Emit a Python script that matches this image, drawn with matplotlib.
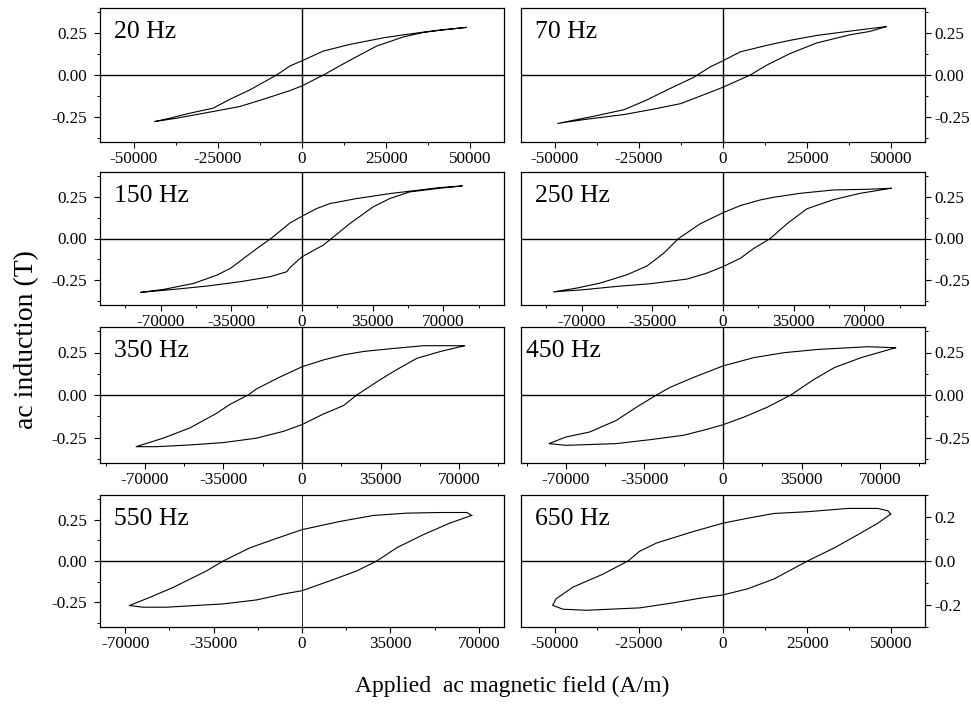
import matplotlib
matplotlib.use("Agg")
import matplotlib.pyplot as plt
from matplotlib.ticker import MultipleLocator, FormatStrFormatter

plt.rcParams['font.family'] = ['Liberation Serif', 'DejaVu Serif']
plt.rcParams['axes.unicode_minus'] = False

# Panel titles (excitation frequency)
freqs = ["20 Hz", "70 Hz", "150 Hz", "250 Hz", "350 Hz", "450 Hz", "550 Hz", "650 Hz"]

# Each loop: upper branch (field decreasing) followed by lower branch (field increasing)
H_20 = [48700, 41100, 36100, 30200, 24200, 22200, 14300, 6350, 0, -3570, -7540, -15500, -21400, -26400, -33300, -39300, -43750,
        -37300, -26400, -18450, -11500, -3570, 0, 6350, 14300, 22200, 30200, 36100, 41100, 48700]
B_20 = [0.284, 0.268, 0.256, 0.240, 0.222, 0.214, 0.183, 0.143, 0.085, 0.054, 0.0, -0.089, -0.145, -0.198, -0.228, -0.258, -0.278,
        -0.258, -0.218, -0.188, -0.145, -0.093, -0.065, 0.0, 0.089, 0.173, 0.228, 0.254, 0.268, 0.284]

H_70 = [48500, 37700, 27800, 19900, 13000, 5100, 0, -3750, -8700, -16600, -22500, -29400, -38300, -49100,
        -41200, -29400, -21500, -12600, -5720, 0, 8100, 13000, 19900, 27800, 37700, 43600, 48500]
B_70 = [0.289, 0.262, 0.236, 0.207, 0.177, 0.138, 0.085, 0.049, -0.014, -0.089, -0.148, -0.207, -0.246, -0.289,
        -0.266, -0.236, -0.207, -0.171, -0.118, -0.073, 0.0, 0.059, 0.128, 0.191, 0.240, 0.260, 0.289]

H_150 = [79200, 68000, 59800, 43400, 26900, 13800, 7200, 0, -5900, -13300, -15800, -22300, -35500, -42100, -53600, -68400, -79900,
         -63400, -47000, -30600, -15800, -7560, -5900, 0, 10500, 14600, 23700, 35200, 43400, 53200, 68000, 79200]
B_150 = [0.316, 0.306, 0.294, 0.270, 0.240, 0.210, 0.180, 0.134, 0.094, 0.020, -0.004, -0.060, -0.180, -0.220, -0.270, -0.306, -0.324,
         -0.306, -0.286, -0.260, -0.230, -0.200, -0.174, -0.110, -0.040, 0.0, 0.090, 0.190, 0.240, 0.280, 0.302, 0.316]

H_250 = [83200, 71300, 54800, 38300, 25100, 18500, 8600, 0, -11200, -22000, -29400, -37600, -47500, -60800, -72300, -83900,
         -69000, -52500, -36000, -17800, -7900, 0, 8600, 15200, 23400, 31700, 41600, 54800, 68000, 83200]
B_250 = [0.302, 0.296, 0.292, 0.272, 0.248, 0.232, 0.198, 0.155, 0.089, 0.0, -0.089, -0.165, -0.218, -0.268, -0.298, -0.321,
         -0.308, -0.288, -0.272, -0.244, -0.208, -0.169, -0.119, -0.060, 0.0, 0.089, 0.179, 0.234, 0.272, 0.302]

H_350 = [72400, 54200, 39300, 27400, 18500, 9500, 0, -9800, -20300, -24000, -32200, -38100, -50000, -61900, -73900,
         -64900, -50000, -35100, -20300, -8300, 0, 9500, 18500, 24400, 34800, 42300, 51200, 61700, 72400]
B_350 = [0.290, 0.290, 0.272, 0.256, 0.236, 0.206, 0.166, 0.106, 0.036, 0.0, -0.056, -0.108, -0.194, -0.254, -0.304,
         -0.304, -0.294, -0.280, -0.254, -0.214, -0.174, -0.112, -0.062, 0.0, 0.090, 0.150, 0.216, 0.256, 0.290]

H_450 = [76900, 64600, 42200, 27200, 13800, 0, -13200, -23600, -29600, -38600, -47600, -59500, -70000, -77500,
         -70000, -47600, -32600, -17600, -7200, 0, 9300, 19700, 30200, 40700, 49600, 61600, 76900]
B_450 = [0.278, 0.284, 0.268, 0.249, 0.220, 0.171, 0.103, 0.045, 0.0, -0.072, -0.150, -0.218, -0.247, -0.286,
         -0.296, -0.286, -0.263, -0.237, -0.202, -0.175, -0.130, -0.072, 0.0, 0.093, 0.161, 0.220, 0.278]

H_550 = [67200, 65300, 54700, 41500, 28300, 15100, 0, -11400, -20600, -31200, -37800, -51000, -60200, -68400,
         -62900, -53600, -31200, -18000, -7400, 0, 11100, 21700, 29600, 37500, 48100, 58600, 67200]
B_550 = [0.276, 0.294, 0.294, 0.290, 0.276, 0.240, 0.190, 0.130, 0.080, 0.0, -0.060, -0.160, -0.220, -0.270,
         -0.280, -0.280, -0.260, -0.236, -0.200, -0.180, -0.120, -0.060, 0.0, 0.080, 0.160, 0.230, 0.276]

H_650 = [49800, 49000, 46000, 37100, 25100, 15100, 7200, 0, -8800, -19700, -24700, -28200, -35700, -44600, -49600, -50600,
         -47600, -40600, -24700, -14700, -6800, 0, 7200, 15100, 25100, 33100, 40000, 46000, 49800]
B_650 = [0.213, 0.228, 0.239, 0.239, 0.224, 0.216, 0.194, 0.172, 0.134, 0.082, 0.045, 0.0, -0.060, -0.119, -0.172, -0.201,
         -0.219, -0.224, -0.213, -0.190, -0.169, -0.154, -0.127, -0.082, 0.0, 0.060, 0.119, 0.172, 0.213]

loops_H = [H_20, H_70, H_150, H_250, H_350, H_450, H_550, H_650]
loops_B = [B_20, B_70, B_150, B_250, B_350, B_450, B_550, B_650]

# Axis setup per panel: field half-range, field tick step, induction half-range, induction tick step
x_half = [60000, 60000, 100000, 100000, 90000, 90000, 80000, 60000]
x_step = [25000, 25000, 35000, 35000, 35000, 35000, 35000, 25000]
y_half = [0.4, 0.4, 0.4, 0.4, 0.4, 0.4, 0.4, 0.3]
y_step = [0.25, 0.25, 0.25, 0.25, 0.25, 0.25, 0.25, 0.2]
y_fmt = ['%.2f'] * 7 + ['%.1f']

W, H = 971, 707
fig = plt.figure(figsize=(W / 100, H / 100), dpi=100)

col_left = [100, 521]
col_width = 404
rows = [(8, 142), (172, 305), (327, 463), (495, 627)]

for i in range(8):
    r, c = divmod(i, 2)
    top, bot = rows[r]
    ax = fig.add_axes([col_left[c] / W, 1 - bot / H, col_width / W, (bot - top) / H])
    ax.set_xlim(-x_half[i], x_half[i])
    ax.set_ylim(-y_half[i], y_half[i])
    ax.axhline(0, color='black', lw=1.0, zorder=1)
    ax.axvline(0, color='black', lw=1.0 if i != 6 else 0.6, zorder=1)
    ax.plot(loops_H[i], loops_B[i], color='black', lw=0.8, zorder=2)

    ax.xaxis.set_major_locator(MultipleLocator(x_step[i]))
    ax.xaxis.set_minor_locator(MultipleLocator(x_step[i] / 2))
    ax.xaxis.set_major_formatter(FormatStrFormatter('%d'))
    ax.yaxis.set_major_locator(MultipleLocator(y_step[i]))
    ax.yaxis.set_minor_locator(MultipleLocator(y_step[i] / 2))
    ax.yaxis.set_major_formatter(FormatStrFormatter(y_fmt[i]))

    if c == 1:
        ax.yaxis.tick_right()
    ax.tick_params(which='major', direction='out', length=4.5, width=0.8,
                   labelsize=12.3, pad=2, colors='black')
    ax.tick_params(which='minor', direction='out', length=2.5, width=0.7)
    if c == 0:
        ax.tick_params(axis='y', which='major', pad=5)
    for sp in ax.spines.values():
        sp.set_linewidth(0.9)

    ax.text(0.035 if i != 5 else 0.012, 0.82, freqs[i], transform=ax.transAxes,
            fontsize=18.5, ha='left', va='center')

fig.text(27 / W, 1 - 340 / H, 'ac induction (T)', rotation=90, fontsize=20,
         ha='center', va='center')
fig.text(512 / W, 1 - 686 / H, 'Applied  ac magnetic field (A/m)', fontsize=17,
         ha='center', va='center')

fig.savefig('out.png', dpi=100)
